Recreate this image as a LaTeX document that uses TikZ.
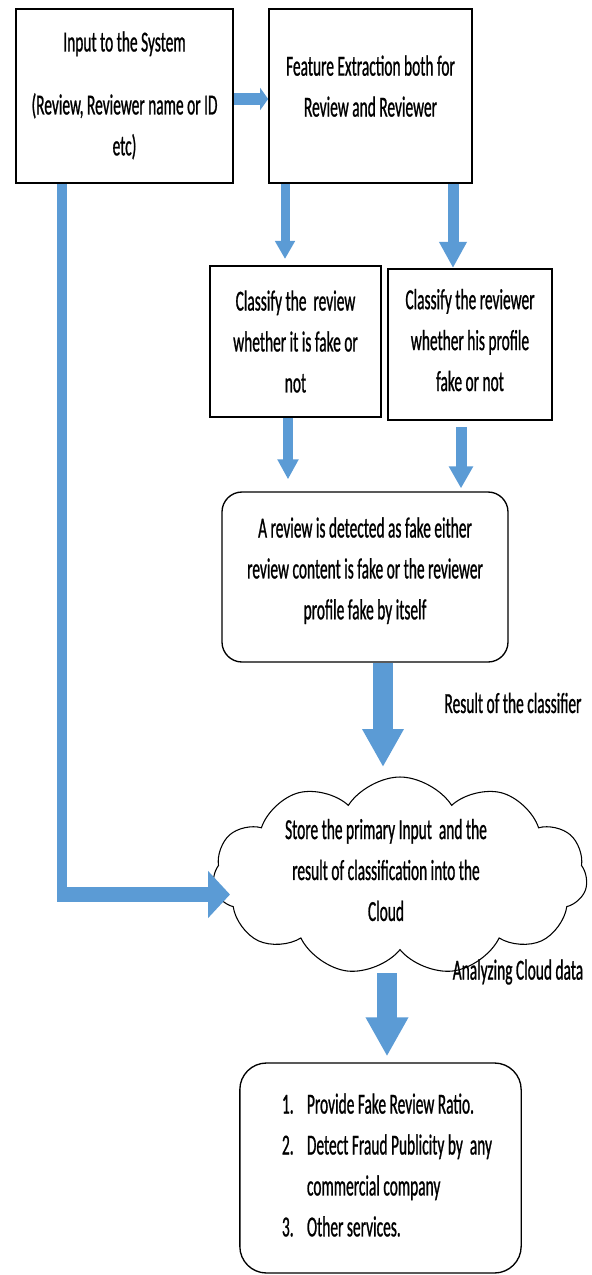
\documentclass[tikz,border=0pt]{standalone}
\usepackage{fontspec}
\setmainfont{Carlito}[FakeStretch=0.53,FakeBold=0.8]
\usetikzlibrary{arrows.meta,calc,shapes.symbols}
\definecolor{arrowblue}{HTML}{5B9BD5}

\begin{document}
\begin{tikzpicture}[x=0.75pt,y=0.75pt,yscale=-1,xscale=1,
  txt/.style={font=\fontsize{21.8pt}{30.7pt}\selectfont},
  box/.style={draw, line width=1.5pt, align=center, inner sep=0pt, txt},
  roundbox/.style={draw, line width=1pt, rounded corners=15pt, align=center, inner sep=0pt, txt},
  blk/.style n args={3}{draw=arrowblue, line width=#1, -{Triangle[width=#2,length=#3]}}]
\useasboundingbox (0,0) rectangle (592,1275);

% Text Node
\node[box, minimum width=163pt, minimum height=130.5pt, text depth=4pt] (input) at (124.5,96) {Input to the System\\[16.5pt](Review, Reviewer name or ID\\etc)};
% Text Node
\node[box, minimum width=152pt, minimum height=130.5pt, text depth=15pt] (feature) at (370.5,96) {Feature Extraction both for\\Review and Reviewer};
% Text Node
\node[box, line width=1.8pt, minimum width=128pt, minimum height=113pt] (clsrev) at (295.5,341.5) {Classify the~ review\\whether it is fake or\\not};
% Text Node
\node[box, line width=1.8pt, minimum width=123pt, minimum height=113pt, text depth=6.75pt] (clsuser) at (470,344.5) {Classify the reviewer\\whether his profile\\fake or not};
% Text Node
\node[roundbox, minimum width=214.5pt, minimum height=127.5pt, text depth=13pt] (detect) at (365,577) {A review is detected as fake either\\review content is fake or the reviewer\\profile fake by itself};
% Cloud
\node[cloud, draw, line width=0.8pt, cloud puffs=11, cloud puff arc=115, aspect=1.9, minimum width=281pt, minimum height=148.5pt] (cloud) at (400,876) {};
% Text Node
\node[txt, align=center] (cloudtext) at (386,870) {Store the primary Input~ and the\\result of classification into the\\Cloud};
% Text Node
\node[roundbox, rounded corners=20pt, minimum width=211pt, minimum height=157.5pt] (services) at (380.5,1168) {};
% Text Node
\node[txt, align=left] (servtext) at (387,1165) {\makebox[18.75pt][l]{1.}Provide Fake Review Ratio.\\\makebox[18.75pt][l]{2.}Detect Fraud Publicity by~ any\\\hspace*{18.75pt}commercial company\\\makebox[18.75pt][l]{3.}Other services.};
% Text Node
\node[txt] (result) at (513,703) {Result of the classifier};
% Text Node
\node[txt] (analyze) at (518,972) {Analyzing Cloud data};

% Connection
\draw[blk={9pt}{16.5pt}{6pt}] ($(input.east)+(0,3)$) -- ($(feature.west)+(0,3)$);
% Connection
\draw[blk={6.75pt}{14.25pt}{13.5pt}] ($(feature.south)+(-85.5,0)$) -- ($(clsrev.north)+(-10.5,-6)$);
% Connection
\draw[blk={8.25pt}{19.5pt}{19.5pt}] ($(feature.south)+(82.5,0)$) -- ($(clsuser.north)+(-17,0)$);
% Connection
\draw[blk={7.5pt}{15pt}{15pt}] ($(clsrev.south)+(-7.5,0)$) -- ($(detect.north)+(-77,-12)$);
% Connection
\draw[blk={8.25pt}{17.25pt}{16.5pt}] ($(clsuser.south)+(-9,6)$) -- ($(detect.north)+(96,-3)$);
% Connection
\draw[blk={15pt}{29.25pt}{28.5pt}] ($(detect.south)+(18,0)$) -- ($(cloud.center)+(-17,-109)$);
% Connection
\draw[blk={15pt}{30pt}{29.25pt}] ($(cloud.center)+(-13,97)$) -- ($(services.north)+(6.5,-6)$);
% Connection
\coordinate (bend) at (62,894.5);
\draw[draw=arrowblue, line width=7.5pt] (input.south -| bend) -- ($(bend)+(0,7.5)$);
\draw[blk={11.25pt}{34.5pt}{16.5pt}] ($(bend)+(-5,0)$) -- ($(cloud.center)+(-170,18.5)$);

\end{tikzpicture}
\end{document}
